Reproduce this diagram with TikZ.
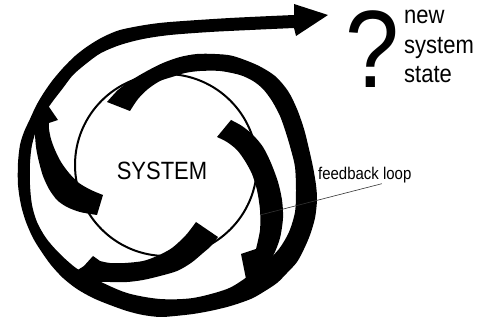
\documentclass[tikz,border=0pt]{standalone}
\usepackage{fontspec}
\setmainfont{Liberation Sans}[FakeStretch=0.88]
\usetikzlibrary{calc,
                positioning}

\begin{document}
\begin{tikzpicture}[x=1pt, y=-1pt,
                    band/.style={fill=black, draw=none},
                    rim/.style={draw, line width=2pt},
                    lbl/.style={inner sep=0, text=black},
                    leader/.style={draw=black!80, line width=0.6pt}
                    ]
    \useasboundingbox (0,0) rectangle (480,320);

    %the system
    \draw[rim] (166,165) circle[radius=91pt];
    \node[lbl, font=\fontsize{25}{30}\selectfont] (sys) at (162,171) {SYSTEM};

    %outer spiral, from the top arrow out to the new state
    \fill[band] plot[smooth] coordinates {(107,102) (118,90) (130,81) (147,71) (163,63) (180,57)
        (197,54) (215,54) (233,56) (257,65) (275,76) (288,91) (297,109) (304,129) (309,149)
        (313,167) (316,185) (317,200) (315,218) (310,235) (304,249) (297,262) (287,273)
        (277,283) (265,291) (253,298) (240,303) (227,307) (210,311) (193,314) (175,316)
        (160,317) (143,315) (127,311) (110,305) (93,298) (77,289) (63,278) (51,265) (41,251)
        (33,238) (26,222) (21,205) (18,185) (18,163) (20,145) (24,132) (30,119) (36,106)
        (43,94) (52,81) (63,68) (75,56) (88,46) (103,37) (120,30) (145,25) (170,22) (230,18)
        (294,15)}
        -- (294,4) -- (328,15) -- (296,36)
        -- plot[smooth] coordinates {(294,28) (250,30) (210,32) (170,35) (143,39) (120,45)
        (101,53) (87,63) (73,75) (63,88) (53,101) (44,114) (37,128) (32,145) (30,163) (30,185)
        (32,205) (37,222) (46,238) (59,253) (76,268) (97,280) (127,293) (160,299) (193,298)
        (227,289) (247,277) (265,263) (279,249) (289,232) (295,212) (296,190) (295,167)
        (291,150) (286,133) (280,116) (272,101) (263,89) (253,81) (240,75) (220,71) (200,71)
        (185,73) (172,77) (160,81) (148,89) (138,99) (130,111)}
        -- cycle;

    %right arrow
    \fill[band] plot[smooth] coordinates {(231,120) (242,126) (253,135) (263,147) (271,163)
        (278,182) (282,200) (283,218) (280,238) (274,254) (266,268) (257,284) (251,295)}
        -- (246,279) -- (241,254)
        -- plot[smooth] coordinates {(256,249) (260,230) (260,210) (257,190) (252,174)
        (245,161) (237,150) (227,142) (217,137)}
        -- cycle;

    %bottom arrow
    \fill[band] plot[smooth] coordinates {(196,222) (186,235) (172,248) (157,256) (143,261)
        (125,263) (110,263) (100,261)}
        -- (93,256) -- (84,266) -- (70,275) -- (92,282)
        -- plot[smooth] coordinates {(110,282) (127,282) (143,280) (160,276) (177,271)
        (191,263) (203,253) (211,246) (218,237)}
        -- cycle;

    %left arrow
    \fill[band] plot[smooth] coordinates {(103,195) (91,190) (79,183) (69,173) (61,162)
        (55,150) (51,139) (49,129) (49,123)}
        -- (58,120) -- (47,104) -- (46,100)
        -- plot[smooth] coordinates {(37,116) (35,130) (36,147) (39,162) (43,176) (49,189)
        (57,200) (67,207) (80,212) (97,215)}
        -- cycle;

    %labels
    \node[lbl, font=\fontsize{110}{112}\selectfont] (qm) at (372,49) {?};
    \node[lbl, font=\fontsize{25}{29.5}\selectfont, align=left, anchor=base west]
        (state) at (404,83) {new\\system\\state};
    \node[lbl, font=\fontsize{17}{20}\selectfont, anchor=base west] (fb) at (318,180) {feedback loop};
    \coordinate (fbtip) at (260,215);
    \draw[leader] ([xshift=17pt]fb.south) -- (fbtip);

\end{tikzpicture}
\end{document}
